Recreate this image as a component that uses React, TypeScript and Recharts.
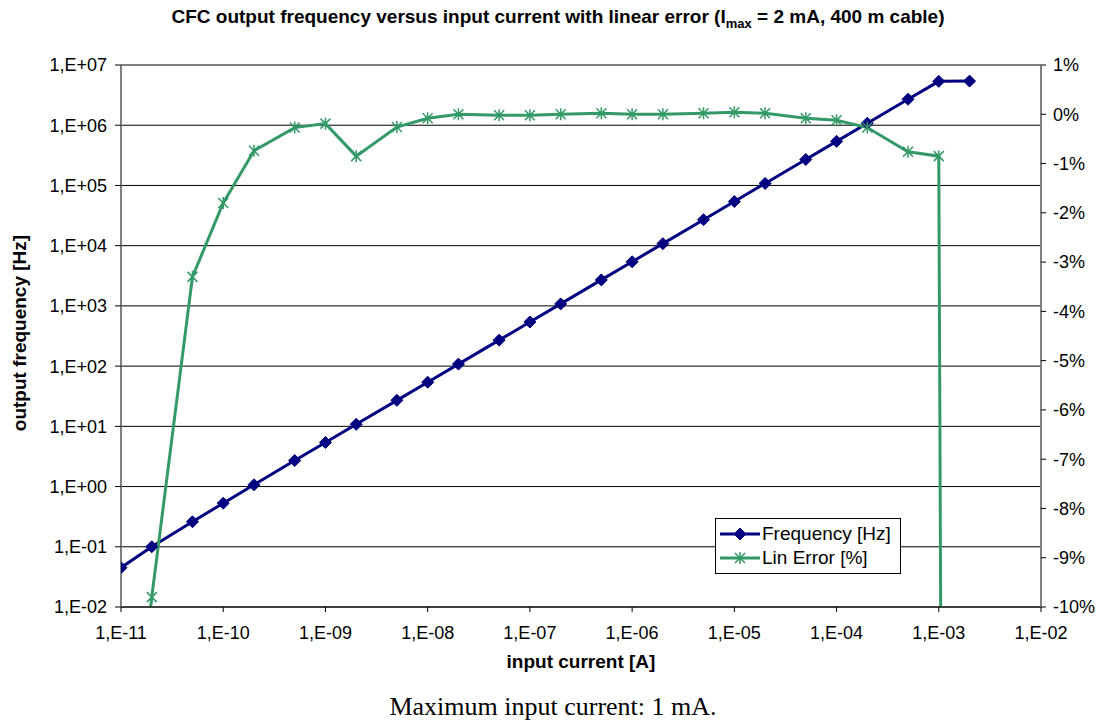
import React from "react";
import {
  ComposedChart,
  Line,
  XAxis,
  YAxis,
  CartesianGrid,
  Legend,
} from "recharts";

// input current [A]
const currents = [
  1e-11, 2e-11, 5e-11, 1e-10, 2e-10, 5e-10, 1e-9, 2e-9, 5e-9, 1e-8, 2e-8, 5e-8,
  1e-7, 2e-7, 5e-7, 1e-6, 2e-6, 5e-6, 1e-5, 2e-5, 5e-5, 1e-4, 2e-4, 5e-4, 1e-3,
  2e-3,
];

// output frequency [Hz]
const frequency = [
  0.045, 0.1, 0.26, 0.53, 1.07, 2.7, 5.4, 10.8, 27, 54, 108, 270, 540, 1080,
  2700, 5400, 10800, 27000, 54000, 108000, 270000, 540000, 1080000, 2700000,
  5350000, 5400000,
];

// linearity error [%]
const linError = [
  -15, -9.8, -3.3, -1.8, -0.74, -0.27, -0.19, -0.85, -0.26, -0.08, 0.0, -0.02,
  -0.02, 0.0, 0.02, 0.0, 0.0, 0.02, 0.04, 0.02, -0.08, -0.12, -0.27, -0.76,
  -0.85, -150,
];

const xTicks = [1e-11, 1e-10, 1e-9, 1e-8, 1e-7, 1e-6, 1e-5, 1e-4, 1e-3, 1e-2];
const freqTicks = [1e-2, 1e-1, 1, 1e1, 1e2, 1e3, 1e4, 1e5, 1e6, 1e7];
const errTicks = [-10, -9, -8, -7, -6, -5, -4, -3, -2, -1, 0, 1];

const data = currents.map((current, i) => ({
  current,
  freq: frequency[i],
  err: linError[i],
}));

const NAVY = "#000080";
const GREEN = "#339966";
const FONT = '"Liberation Sans", Arial, sans-serif';

const sciLabel = (v: number) => {
  const e = Math.round(Math.log10(v));
  const abs = Math.abs(e).toString().padStart(2, "0");
  return `1,E${e < 0 ? "-" : "+"}${abs}`;
};

const Diamond = ({ cx, cy, size = 6 }: { cx: number; cy: number; size?: number }) => (
  <path
    d={`M${cx},${cy - size} L${cx + size},${cy} L${cx},${cy + size} L${cx - size},${cy} Z`}
    fill={NAVY}
    stroke={NAVY}
    strokeWidth={1}
  />
);

const Star = ({ cx, cy, size = 5 }: { cx: number; cy: number; size?: number }) => (
  <path
    d={`M${cx},${cy - size - 1} L${cx},${cy + size + 1} M${cx - size},${cy - size} L${cx + size},${cy + size} M${cx - size},${cy + size} L${cx + size},${cy - size}`}
    stroke={GREEN}
    strokeWidth={1.5}
    fill="none"
  />
);

const renderDiamond = (props: any) => {
  const { cx, cy, index } = props;
  if (cx == null || cy == null) return <g key={`d-${index}`} />;
  return (
    <g key={`d-${index}`}>
      <Diamond cx={cx} cy={cy} />
    </g>
  );
};

const renderStar = (props: any) => {
  const { cx, cy, index } = props;
  if (cx == null || cy == null) return <g key={`s-${index}`} />;
  return (
    <g key={`s-${index}`}>
      <Star cx={cx} cy={cy} />
    </g>
  );
};

const renderLegend = () => (
  <div
    style={{
      border: "1px solid #000",
      background: "#fff",
      padding: "3px 8px 3px 2px",
      fontFamily: FONT,
      fontSize: 19,
      lineHeight: "24px",
      color: "#000",
    }}
  >
    <div style={{ display: "flex", alignItems: "center" }}>
      <svg width={44} height={24}>
        <line x1={2} y1={12} x2={42} y2={12} stroke={NAVY} strokeWidth={3} />
        <Diamond cx={22} cy={12} />
      </svg>
      <span>Frequency [Hz]</span>
    </div>
    <div style={{ display: "flex", alignItems: "center" }}>
      <svg width={44} height={24}>
        <line x1={2} y1={12} x2={42} y2={12} stroke={GREEN} strokeWidth={3} />
        <Star cx={22} cy={12} />
      </svg>
      <span>Lin Error [%]</span>
    </div>
  </div>
);

const App: React.FC = () => {
  return (
    <div
      style={{
        position: "absolute",
        left: 0,
        top: 0,
        width: 1105,
        height: 725,
        background: "#fff",
      }}
    >
      <div
        style={{
          position: "absolute",
          left: 558,
          top: 6,
          transform: "translateX(-50%)",
          whiteSpace: "nowrap",
          fontFamily: FONT,
          fontWeight: "bold",
          fontSize: 19,
        }}
      >
        CFC output frequency versus input current with linear error (I
        <sub style={{ fontSize: 13 }}>max</sub> = 2 mA, 400 m cable)
      </div>

      <ComposedChart
        width={1105}
        height={725}
        data={data}
        margin={{ top: 65, right: 0, left: 0, bottom: 78 }}
      >
        <CartesianGrid
          yAxisId="left"
          vertical={false}
          stroke="#000"
          strokeWidth={1}
        />
        <XAxis
          dataKey="current"
          type="number"
          scale="log"
          domain={[1e-11, 1e-2]}
          ticks={xTicks}
          tickFormatter={sciLabel}
          allowDataOverflow
          height={40}
          tickSize={5}
          tickMargin={14}
          axisLine={{ stroke: "#000" }}
          tickLine={{ stroke: "#000" }}
          tick={{ fill: "#000", fontFamily: FONT, fontSize: 18 }}
        />
        <YAxis
          yAxisId="left"
          type="number"
          scale="log"
          domain={[1e-2, 1e7]}
          ticks={freqTicks}
          tickFormatter={sciLabel}
          allowDataOverflow
          width={121}
          tickSize={6}
          tickMargin={8}
          axisLine={{ stroke: "#808080", strokeWidth: 2 }}
          tickLine={{ stroke: "#000" }}
          tick={{ fill: "#000", fontFamily: FONT, fontSize: 18 }}
        />
        <YAxis
          yAxisId="right"
          orientation="right"
          type="number"
          domain={[-10, 1]}
          ticks={errTicks}
          tickFormatter={(v: number) => `${v}%`}
          allowDataOverflow
          width={64}
          tickSize={5}
          tickMargin={7}
          axisLine={{ stroke: "#808080", strokeWidth: 2 }}
          tickLine={{ stroke: "#000" }}
          tick={{ fill: "#000", fontFamily: FONT, fontSize: 18 }}
        />
        <Legend
          content={renderLegend}
          layout="vertical"
          align="center"
          verticalAlign="middle"
          wrapperStyle={{ left: 715, top: 518, width: 186 }}
        />
        <Line
          yAxisId="left"
          type="linear"
          dataKey="freq"
          name="Frequency [Hz]"
          stroke={NAVY}
          strokeWidth={3}
          dot={renderDiamond}
          activeDot={false}
          isAnimationActive={false}
        />
        <Line
          yAxisId="right"
          type="linear"
          dataKey="err"
          name="Lin Error [%]"
          stroke={GREEN}
          strokeWidth={3}
          dot={renderStar}
          activeDot={false}
          isAnimationActive={false}
        />
      </ComposedChart>

      <div
        style={{
          position: "absolute",
          left: 20,
          top: 333,
          transform: "translate(-50%, -50%) rotate(-90deg)",
          whiteSpace: "nowrap",
          fontFamily: FONT,
          fontWeight: "bold",
          fontSize: 19,
        }}
      >
        output frequency [Hz]
      </div>

      <div
        style={{
          position: "absolute",
          left: 581,
          top: 651,
          transform: "translateX(-50%)",
          whiteSpace: "nowrap",
          fontFamily: FONT,
          fontWeight: "bold",
          fontSize: 19,
        }}
      >
        input current [A]
      </div>

      <div
        style={{
          position: "absolute",
          left: 553,
          top: 692,
          transform: "translateX(-50%)",
          whiteSpace: "nowrap",
          fontFamily: '"Liberation Serif", "Times New Roman", serif',
          fontSize: 26,
        }}
      >
        Maximum input current: 1 mA.
      </div>
    </div>
  );
};

export default App;
